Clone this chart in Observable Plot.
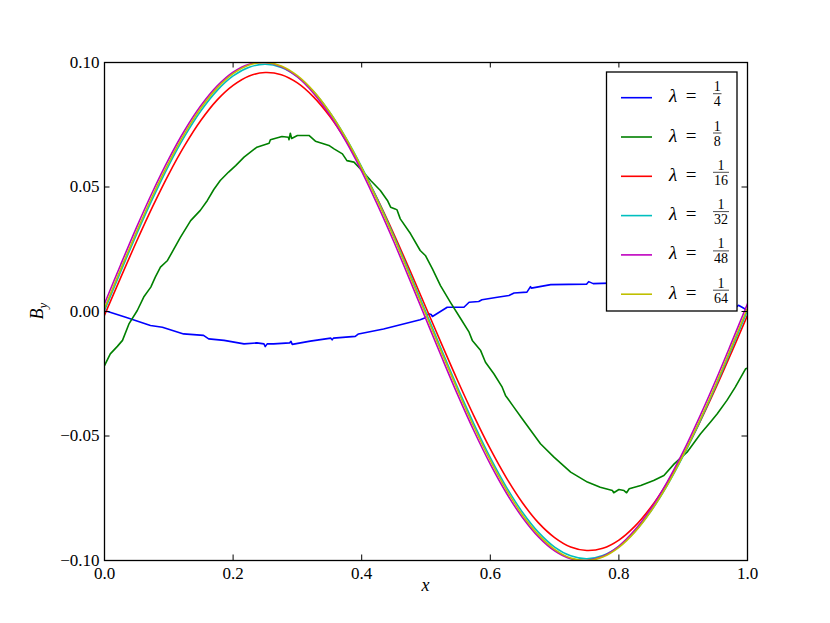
<!DOCTYPE html>
<html><head><meta charset="utf-8">
<script src="https://cdn.jsdelivr.net/npm/d3@7"></script>
<script src="https://cdn.jsdelivr.net/npm/@observablehq/plot@0.6"></script>
<style>
html,body{margin:0;padding:0;background:#fff;}
#chart{position:relative;width:830px;height:623px;}
</style></head><body><div id="chart"></div>
<script>
// ---------- data ----------
const lambdaLabels = ["1/4","1/8","1/16","1/32","1/48","1/64"];
const seriesColors = ["#0000ff","#008000","#ff0000","#00bfbf","#bf00bf","#bfbf00"];
const xTicks = [0, 0.2, 0.4, 0.6, 0.8, 1.0];
const yTicks = [-0.1, -0.05, 0, 0.05, 0.1];

// lambda = 1/4 (blue, noisy)
const blueX = [0.000,0.005,0.033,0.0715,0.090,0.123,0.154,0.162,0.186,0.217,0.237,0.248,0.250,0.253,0.263,0.288,0.290,0.292,0.320,0.352,0.354,0.356,0.390,0.395,0.434,0.491,0.499,0.504,0.508,0.510,0.533,0.559,0.567,0.582,0.587,0.611,0.629,0.637,0.657,0.6625,0.664,0.694,0.750,0.753,0.760,0.800,0.850,0.900,0.950,0.984,0.986,0.995,1.000];
const blueY = [0.0001,0.0000,-0.0023,-0.0056,-0.0063,-0.0090,-0.0096,-0.0110,-0.0116,-0.0130,-0.0126,-0.0130,-0.0141,-0.0130,-0.0130,-0.0126,-0.0120,-0.0132,-0.0119,-0.0107,-0.0114,-0.0107,-0.0100,-0.0090,-0.0070,-0.0033,-0.0025,-0.0009,-0.0012,-0.0020,0.0017,0.0017,0.0037,0.0040,0.0047,0.0057,0.0064,0.0074,0.0078,0.0100,0.0094,0.0108,0.0110,0.0120,0.0112,0.0115,0.0105,0.0085,0.0050,0.0020,0.0025,0.0012,0.0002];

// lambda = 1/8 (green, noisy)
const greenX = [0.000,0.009,0.020,0.028,0.038,0.051,0.061,0.072,0.079,0.087,0.098,0.118,0.134,0.149,0.160,0.170,0.180,0.193,0.204,0.217,0.237,0.256,0.258,0.276,0.286,0.287,0.289,0.291,0.300,0.318,0.328,0.338,0.349,0.357,0.370,0.377,0.388,0.398,0.414,0.429,0.440,0.445,0.452,0.455,0.460,0.476,0.491,0.499,0.510,0.5225,0.538,0.554,0.567,0.572,0.585,0.5925,0.6055,0.6185,0.6236,0.6366,0.6496,0.678,0.699,0.725,0.751,0.771,0.790,0.792,0.800,0.808,0.812,0.816,0.834,0.854,0.870,0.886,0.906,0.927,0.9425,0.953,0.968,0.981,0.997,1.000];
const greenY = [-0.0217,-0.0170,-0.0140,-0.0116,-0.0050,0.0004,0.0058,0.0098,0.0138,0.0178,0.0205,0.0298,0.0365,0.0406,0.0446,0.0490,0.0526,0.0560,0.0586,0.0620,0.0660,0.0676,0.0690,0.0703,0.0700,0.0690,0.0716,0.0695,0.0707,0.0707,0.0684,0.0676,0.0667,0.0653,0.0633,0.0606,0.0600,0.0573,0.0526,0.0486,0.0446,0.0419,0.0412,0.0408,0.0372,0.0312,0.0245,0.0225,0.0171,0.0104,0.0037,-0.0029,-0.0083,-0.0116,-0.0157,-0.0204,-0.0250,-0.0304,-0.0337,-0.0384,-0.0431,-0.0531,-0.0585,-0.0645,-0.0685,-0.0706,-0.0719,-0.0728,-0.0715,-0.0719,-0.0728,-0.0712,-0.0699,-0.0679,-0.0659,-0.0612,-0.0565,-0.0491,-0.0444,-0.0411,-0.0357,-0.0304,-0.0230,-0.0228];

// smooth curves sampled at common x positions
const gridX = [0,0.025,0.05,0.075,0.1,0.125,0.15,0.175,0.2,0.225,0.25,0.275,0.3,0.325,0.35,0.375,0.4,0.425,0.45,0.475,0.5,0.525,0.55,0.575,0.6,0.625,0.65,0.675,0.7,0.725,0.75,0.775,0.8,0.825,0.85,0.875,0.9,0.925,0.95,0.975,1.0];
// lambda = 1/16 (red)
const redY = [-0.0015,0.0135,0.0282,0.0422,0.0552,0.0668,0.0768,0.0849,0.0908,0.0946,0.0960,0.0951,0.0918,0.0862,0.0785,0.0689,0.0576,0.0449,0.0311,0.0165,0.0015,-0.0135,-0.0282,-0.0422,-0.0552,-0.0668,-0.0768,-0.0849,-0.0908,-0.0946,-0.0960,-0.0951,-0.0918,-0.0862,-0.0785,-0.0689,-0.0576,-0.0449,-0.0311,-0.0165,-0.0015];
// lambda = 1/32 (cyan)
const cyanY = [0.0004,0.0159,0.0311,0.0454,0.0587,0.0705,0.0806,0.0887,0.0946,0.0981,0.0993,0.0980,0.0943,0.0883,0.0801,0.0699,0.0580,0.0447,0.0303,0.0151,-0.0004,-0.0159,-0.0311,-0.0454,-0.0587,-0.0705,-0.0806,-0.0887,-0.0946,-0.0981,-0.0993,-0.0980,-0.0943,-0.0883,-0.0801,-0.0699,-0.0580,-0.0447,-0.0303,-0.0151,0.0004];
// lambda = 1/48 (magenta)
const magentaY = [0.0031,0.0187,0.0339,0.0482,0.0613,0.0729,0.0827,0.0905,0.0961,0.0993,0.1000,0.0983,0.0942,0.0877,0.0791,0.0685,0.0563,0.0426,0.0280,0.0126,-0.0031,-0.0187,-0.0339,-0.0482,-0.0613,-0.0729,-0.0827,-0.0905,-0.0961,-0.0993,-0.1000,-0.0983,-0.0942,-0.0877,-0.0791,-0.0685,-0.0563,-0.0426,-0.0280,-0.0126,0.0031];
// lambda = 1/64 (yellow)
const yellowY = [0.0013,0.0169,0.0321,0.0466,0.0598,0.0716,0.0817,0.0897,0.0955,0.0990,0.1000,0.0986,0.0947,0.0885,0.0801,0.0698,0.0577,0.0442,0.0297,0.0143,-0.0013,-0.0169,-0.0321,-0.0466,-0.0598,-0.0716,-0.0817,-0.0897,-0.0955,-0.0990,-0.1000,-0.0986,-0.0947,-0.0885,-0.0801,-0.0698,-0.0577,-0.0442,-0.0297,-0.0143,0.0013];

// ---------- build ----------
const zip = (xs, ys) => xs.map((x, i) => ({x, y: ys[i]}));
const series = [
  zip(blueX, blueY), zip(greenX, greenY), zip(gridX, redY),
  zip(gridX, cyanY), zip(gridX, magentaY), zip(gridX, yellowY)
];
const curves = ["linear", "linear", "catmull-rom", "catmull-rom", "catmull-rom", "catmull-rom"];

const W = 830, H = 623, mL = 104, mR = 83, mT = 62, mB = 63;
const plotW = W - mL - mR, plotH = H - mT - mB;
const tk = 5.5;
const FONT = "'Liberation Serif', 'DejaVu Serif', serif";

const chart = Plot.plot({
  width: W, height: H,
  marginLeft: mL, marginRight: mR, marginTop: mT, marginBottom: mB,
  x: {domain: [0, 1]},
  y: {domain: [-0.1, 0.1]},
  style: {fontFamily: FONT, fontSize: "17px", background: "white", color: "black", overflow: "visible"},
  marks: [
    ...series.map((rows, i) => Plot.line(rows, {x: "x", y: "y", stroke: seriesColors[i], strokeWidth: 1.6, curve: curves[i], clip: true})),
    Plot.frame({stroke: "black", strokeWidth: 1.3}),
    Plot.tickX(xTicks, {x: d => d, insetTop: plotH - tk, stroke: "black", strokeWidth: 1}),
    Plot.tickX(xTicks, {x: d => d, insetBottom: plotH - tk, stroke: "black", strokeWidth: 1}),
    Plot.tickY(yTicks, {y: d => d, insetRight: plotW - tk, stroke: "black", strokeWidth: 1}),
    Plot.tickY(yTicks, {y: d => d, insetLeft: plotW - tk, stroke: "black", strokeWidth: 1}),
    Plot.axisX(xTicks, {tickSize: 0, tickPadding: 6, tickFormat: d3.format(".1f"), label: null}),
    Plot.axisY(yTicks, {tickSize: 0, tickPadding: 5, tickFormat: d3.format(".2f"), label: null})
  ]
});

const svg = d3.select(chart);

// axis labels
svg.append("text").attr("x", mL + plotW / 2).attr("y", 591)
  .attr("text-anchor", "middle").attr("font-style", "italic").attr("font-size", 18)
  .attr("font-family", FONT).attr("fill", "black").text("x");
const yl = svg.append("text").attr("transform", "translate(43,311) rotate(-90)")
  .attr("text-anchor", "middle").attr("font-family", FONT).attr("font-size", 18).attr("fill", "black");
yl.append("tspan").attr("font-style", "italic").text("B");
yl.append("tspan").attr("font-style", "italic").attr("font-size", 13).attr("dy", 4).text("y");

// legend
const lg = svg.append("g").attr("font-family", FONT).attr("fill", "black");
lg.append("rect").attr("x", 606.5).attr("y", 72).attr("width", 130.5).attr("height", 239)
  .attr("fill", "white").attr("stroke", "black").attr("stroke-width", 1.3);
lambdaLabels.forEach((lab, i) => {
  const cy = 97.7 + i * 39.3;
  const [num, den] = lab.split("/");
  lg.append("line").attr("x1", 621).attr("x2", 652).attr("y1", cy).attr("y2", cy)
    .attr("stroke", seriesColors[i]).attr("stroke-width", 1.6);
  lg.append("text").attr("x", 673).attr("y", cy + 4.5).attr("font-style", "italic")
    .attr("font-size", 19).attr("fill", "black").text("λ");
  lg.append("text").attr("x", 691).attr("y", cy + 4.5).attr("font-size", 19).attr("fill", "black").text("=");
  const bw = den.length * 7.5 + 1;
  const fx = 713 + bw / 2;
  lg.append("text").attr("x", fx).attr("y", cy - 6.5).attr("text-anchor", "middle")
    .attr("font-size", 14).attr("fill", "black").text(num);
  lg.append("line").attr("x1", fx - bw / 2).attr("x2", fx + bw / 2)
    .attr("y1", cy - 4).attr("y2", cy - 4).attr("stroke", "black").attr("stroke-width", 0.7);
  lg.append("text").attr("x", fx).attr("y", cy + 8.5).attr("text-anchor", "middle")
    .attr("font-size", 14).attr("fill", "black").text(den);
});

document.getElementById("chart").appendChild(chart);
</script></body></html>
